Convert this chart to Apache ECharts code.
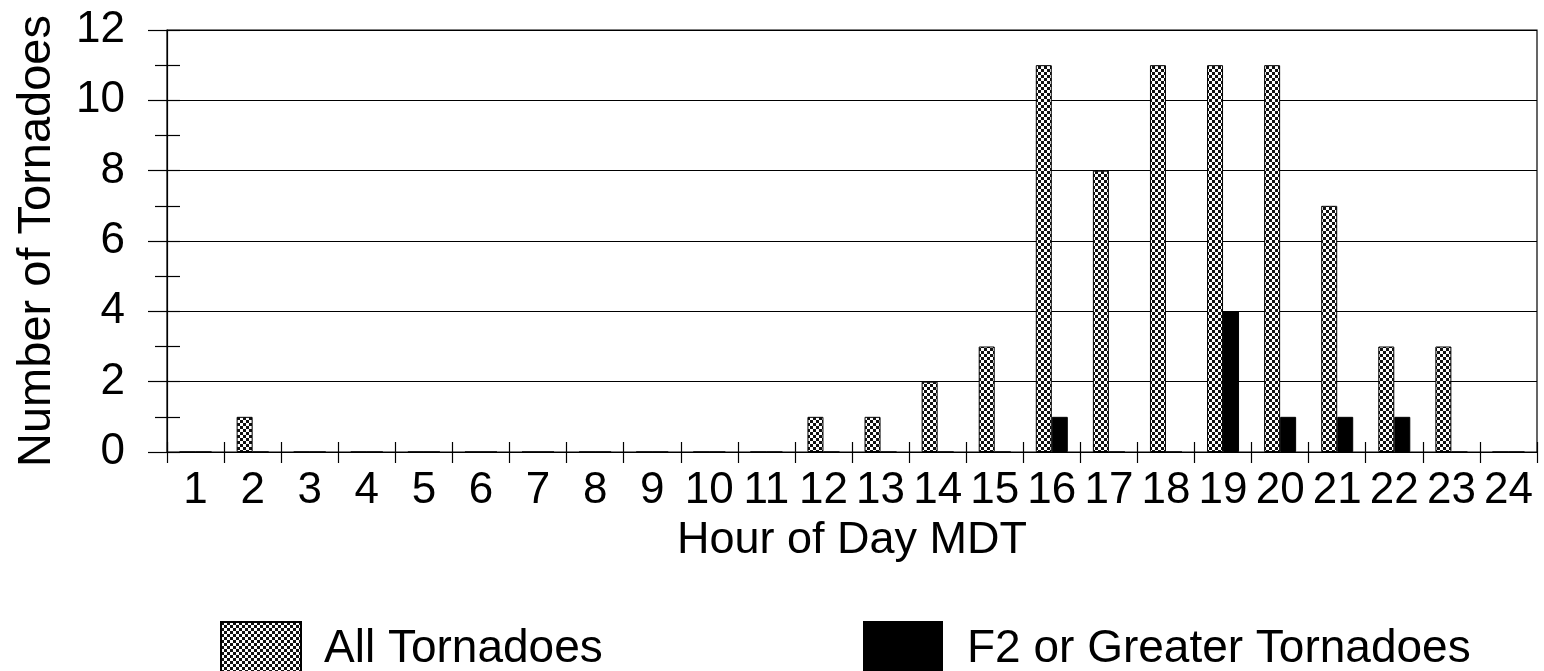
<!DOCTYPE html>
<html>
<head>
<meta charset="utf-8">
<script src="https://cdn.jsdelivr.net/npm/echarts@6/dist/echarts.min.js"></script>
<style>html,body{margin:0;padding:0;background:#fff;}#c{width:1544px;height:671px;}</style>
</head>
<body>
<div id="c"></div>
<script>
const hours = ['1','2','3','4','5','6','7','8','9','10','11','12','13','14','15','16','17','18','19','20','21','22','23','24'];
const allTornadoes = [0,1,0,0,0,0,0,0,0,0,0,1,1,2,3,11,8,11,11,11,7,3,3,0];
const f2Tornadoes  = [0,0,0,0,0,0,0,0,0,0,0,0,0,0,0,1,0,0,4,1,1,1,0,0];
const yTicks = [0,2,4,6,8,10,12];

const FONT = '"Liberation Sans", Arial, Helvetica, sans-serif';

function makePattern() {
  const c = document.createElement('canvas');
  c.width = 6; c.height = 6;
  const g = c.getContext('2d');
  g.fillStyle = '#ffffff'; g.fillRect(0,0,6,6);
  g.fillStyle = '#111111';
  g.fillRect(0,0,3,3); g.fillRect(3,3,3,3);
  return c;
}
const pat = { image: makePattern(), repeat: 'repeat' };

const chart = echarts.init(document.getElementById('c'), null, {renderer:'canvas'});
chart.setOption({
  animation: false,
  backgroundColor: '#fff',
  textStyle: { fontFamily: FONT, color: '#000' },
  grid: { left: 167, right: 7, top: 30, bottom: 219, show: true, borderColor: '#000', borderWidth: 1.2, backgroundColor: 'transparent' },
  legend: [
    { data: [{ name: 'All Tornadoes', icon: 'rect' }], left: 215, top: 616, itemWidth: 80, itemHeight: 54,
      textStyle: { fontSize: 46, fontFamily: FONT, color: '#000', padding: [0,0,0,18] } },
    { data: [{ name: 'F2 or Greater Tornadoes', icon: 'rect' }], left: 858, top: 616, itemWidth: 78, itemHeight: 54,
      textStyle: { fontSize: 46, fontFamily: FONT, color: '#000', padding: [0,0,0,20] } }
  ],
  xAxis: [
    { type: 'category', data: hours, boundaryGap: true,
      name: 'Hour of Day MDT', nameLocation: 'middle', nameGap: 65,
      nameTextStyle: { fontSize: 45, fontFamily: FONT, color: '#000' },
      axisLine: { show: true, lineStyle: { color: '#000', width: 1.2 } },
      axisTick: { show: true, length: 11, alignWithLabel: false, lineStyle: { color: '#000', width: 1.2 } },
      axisLabel: { fontSize: 44, fontFamily: FONT, color: '#000', margin: 17, interval: 0 },
      splitLine: { show: false } },
    { type: 'category', data: hours, boundaryGap: true, position: 'bottom',
      axisLine: { show: false },
      axisTick: { show: true, inside: true, length: 10, lineStyle: { color: '#000', width: 1.2 } },
      axisLabel: { show: false }, splitLine: { show: false } }
  ],
  yAxis: [
    { type: 'value', min: 0, max: 12, interval: 2,
      name: 'Number of Tornadoes', nameLocation: 'middle', nameGap: 106,
      nameTextStyle: { fontSize: 47, fontFamily: FONT, color: '#000' },
      axisLine: { show: true, lineStyle: { color: '#000', width: 1.2 } },
      axisTick: { show: true, length: 19, lineStyle: { color: '#000', width: 1.2 } },
      minorTick: { show: true, splitNumber: 2, length: 12, lineStyle: { color: '#000', width: 1.2 } },
      axisLabel: { fontSize: 44, fontFamily: FONT, color: '#000', margin: 42,
        formatter: v => yTicks.includes(v) ? String(v) : '' },
      splitLine: { show: true, lineStyle: { color: '#000', width: 1.2 } } },
    { type: 'value', min: 0, max: 12, interval: 1, position: 'left',
      axisLine: { show: false },
      axisTick: { show: true, inside: true, length: 13, lineStyle: { color: '#000', width: 1.2 } },
      axisLabel: { show: false }, splitLine: { show: false } }
  ],
  series: [
    { name: 'All Tornadoes', type: 'bar', data: allTornadoes, barWidth: 16, barGap: '0%',
      itemStyle: { color: pat, borderColor: '#000', borderWidth: 1 } },
    { name: 'F2 or Greater Tornadoes', type: 'bar', data: f2Tornadoes, barWidth: 16, barGap: '0%',
      itemStyle: { color: '#000', borderColor: '#000', borderWidth: 1 } }
  ]
});
</script>
</body>
</html>
